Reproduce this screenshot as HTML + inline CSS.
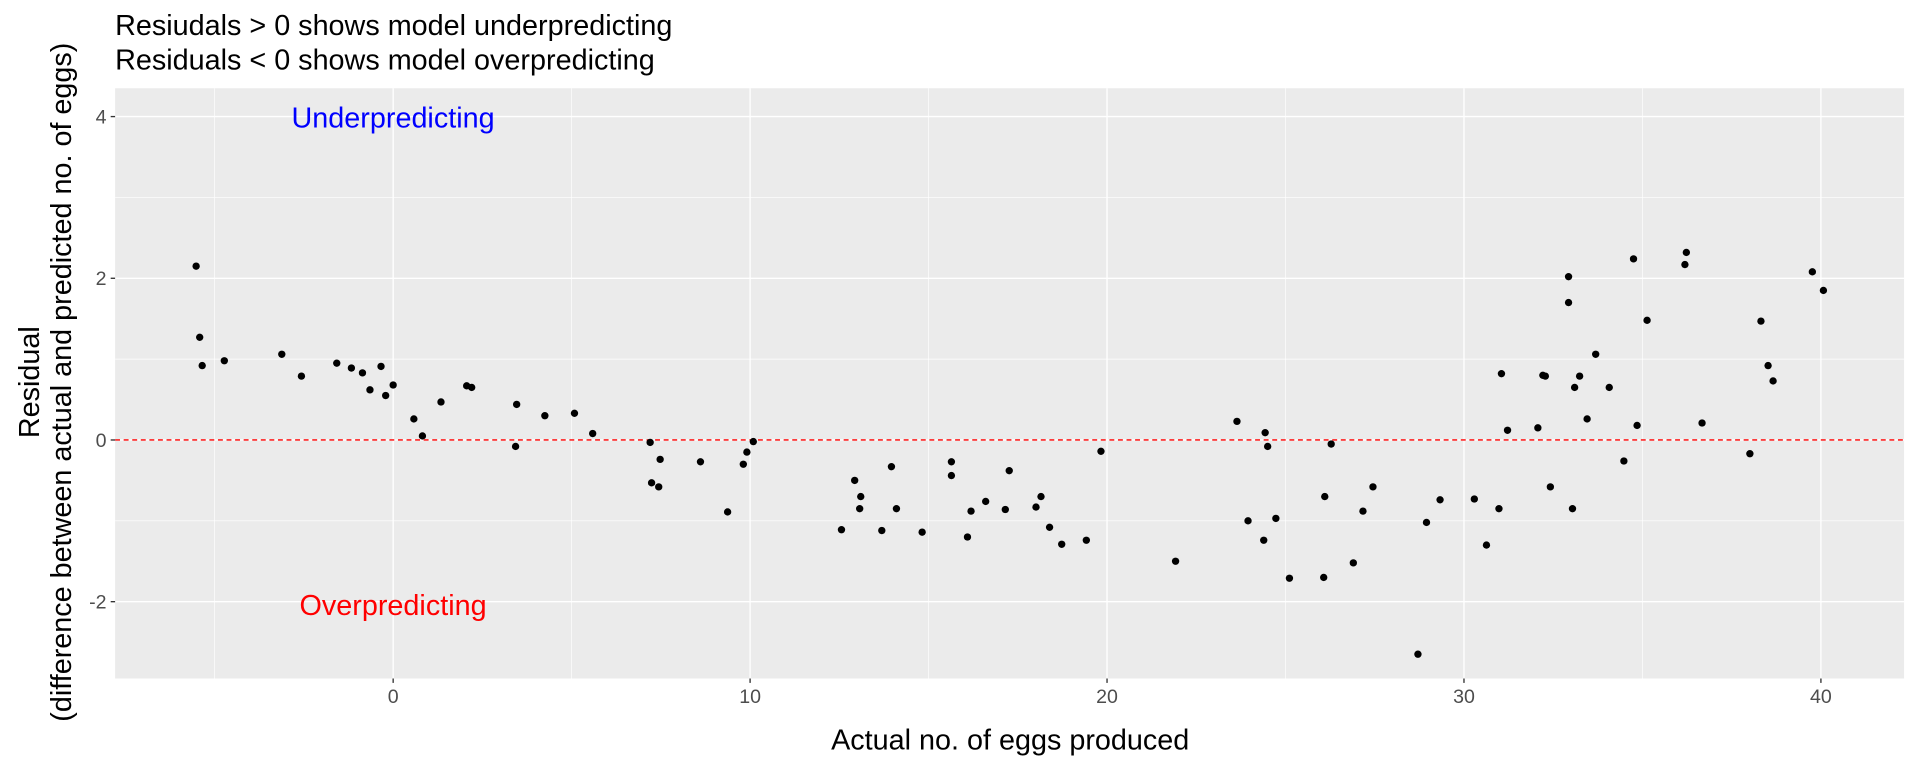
<!DOCTYPE html>
<html><head><meta charset="utf-8"><style>
html,body{margin:0;padding:0;background:#fff;}
svg{display:block;}
text{font-family:"Liberation Sans",Arial,sans-serif;}
</style></head><body>
<svg id="chart" width="1920" height="768" viewBox="0 0 1568 627" xmlns="http://www.w3.org/2000/svg">
<text x="94" y="28.5" font-size="23.5" fill="#000">Resiudals &gt; 0 shows model underpredicting</text>
<text x="94" y="56.5" font-size="23.5" fill="#000">Residuals &lt; 0 shows model overpredicting</text>
<rect x="94" y="72" width="1461" height="482" fill="#EBEBEB"/>
<g id="grid"></g>
<g id="axes"></g>
<g id="points"></g>
<text x="321" y="104" font-size="23.5" fill="#0000FF" text-anchor="middle">Underpredicting</text>
<text x="321" y="502" font-size="23.5" fill="#FF0000" text-anchor="middle">Overpredicting</text>
<text x="825" y="612" font-size="23.5" fill="#000" text-anchor="middle">Actual no. of eggs produced</text>
<text transform="translate(32,312) rotate(-90)" font-size="23.5" fill="#000" text-anchor="middle"><tspan x="0" dy="0">Residual</tspan><tspan x="0" dy="26">(difference between actual and predicted no. of eggs)</tspan></text>
</svg>
<script>
const xValues=[-5.52,-5.42,-5.35,-4.73,-3.12,-2.57,-1.58,-1.17,-0.86,-0.65,-0.34,-0.21,0,0.58,0.82,1.34,2.06,2.2,3.46,3.43,4.25,5.08,5.59,7.2,7.24,7.44,7.48,8.61,9.37,9.81,9.91,10.09,12.56,12.93,13.1,13.07,13.69,13.96,14.1,14.82,15.64,15.64,16.09,16.19,16.6,17.15,17.26,18.01,18.15,18.39,18.73,19.42,19.83,21.92,23.64,23.95,24.39,24.43,24.5,24.73,25.11,26.07,26.1,26.28,26.9,27.17,27.45,28.71,28.95,29.33,30.29,30.63,30.98,31.05,31.22,32.07,32.21,32.28,32.42,32.93,32.93,33.04,33.1,33.24,33.45,33.69,34.07,34.48,34.75,34.85,35.13,36.19,36.23,36.67,38.01,38.32,38.52,38.66,39.76,40.07];
const residuals=[2.15,1.27,0.92,0.98,1.06,0.79,0.95,0.89,0.83,0.62,0.91,0.55,0.68,0.26,0.05,0.47,0.67,0.65,0.44,-0.08,0.30,0.33,0.08,-0.03,-0.53,-0.58,-0.24,-0.27,-0.89,-0.30,-0.15,-0.02,-1.11,-0.5,-0.7,-0.85,-1.12,-0.33,-0.85,-1.14,-0.27,-0.44,-1.2,-0.88,-0.76,-0.86,-0.38,-0.83,-0.70,-1.08,-1.29,-1.24,-0.14,-1.50,0.23,-1.0,-1.24,0.09,-0.08,-0.97,-1.71,-1.70,-0.7,-0.05,-1.52,-0.88,-0.58,-2.65,-1.02,-0.74,-0.73,-1.30,-0.85,0.82,0.12,0.15,0.8,0.79,-0.58,2.02,1.70,-0.85,0.65,0.79,0.26,1.06,0.65,-0.26,2.24,0.18,1.48,2.17,2.32,0.21,-0.17,1.47,0.92,0.73,2.08,1.85];
const xTicks=[0,10,20,30,40];
const yTicks=[-2,0,2,4];
const xMinor=[-5,5,15,25,35];
const yMinor=[-1,1,3];
const NS="http://www.w3.org/2000/svg";
const X0=94,X1=1555,Y0=72,Y1=554;
const xDom=[-7.79,42.33], yDom=[-2.95,4.35];
function sx(v){return X0+(v-xDom[0])/(xDom[1]-xDom[0])*(X1-X0);}
function sy(v){return Y1-(v-yDom[0])/(yDom[1]-yDom[0])*(Y1-Y0);}
function mk(tag,attrs,parent){const e=document.createElementNS(NS,tag);for(const k in attrs)e.setAttribute(k,attrs[k]);parent.appendChild(e);return e;}
const grid=document.getElementById('grid'),axes=document.getElementById('axes'),pts=document.getElementById('points');
xMinor.forEach(v=>{const l=mk('line',{x1:sx(v),x2:sx(v),y1:Y0,y2:Y1,stroke:'#fff','stroke-width':0.55},grid);

});
yMinor.forEach(v=>{const l=mk('line',{x1:X0,x2:X1,y1:sy(v),y2:sy(v),stroke:'#fff','stroke-width':0.55},grid);

});
xTicks.forEach(v=>{const l=mk('line',{x1:sx(v),x2:sx(v),y1:Y0,y2:Y1,stroke:'#fff','stroke-width':1.1},grid);


const t=mk('line',{x1:sx(v),x2:sx(v),y1:Y1,y2:Y1+3.6,stroke:'#333','stroke-width':1.1},axes);


const tx=mk('text',{x:sx(v),y:Y1+20,'font-size':16,fill:'#4D4D4D','text-anchor':'middle'},axes);tx.textContent=v;

});
yTicks.forEach(v=>{const l=mk('line',{x1:X0,x2:X1,y1:sy(v),y2:sy(v),stroke:'#fff','stroke-width':1.1},grid);


const t=mk('line',{x1:X0-3.6,x2:X0,y1:sy(v),y2:sy(v),stroke:'#333','stroke-width':1.1},axes);


const tx=mk('text',{x:X0-7,y:sy(v)+5.6,'font-size':16,fill:'#4D4D4D','text-anchor':'end'},axes);tx.textContent=v;

});
const zl=mk('line',{x1:X0,x2:X1,y1:sy(0),y2:sy(0),stroke:'#FF0000','stroke-width':1.1,'stroke-dasharray':'4,3'},grid);


xValues.forEach((v,i)=>{const c=mk('circle',{cx:sx(v),cy:sy(residuals[i]),r:3,fill:'#000'},pts);

});
</script>
</body></html>
